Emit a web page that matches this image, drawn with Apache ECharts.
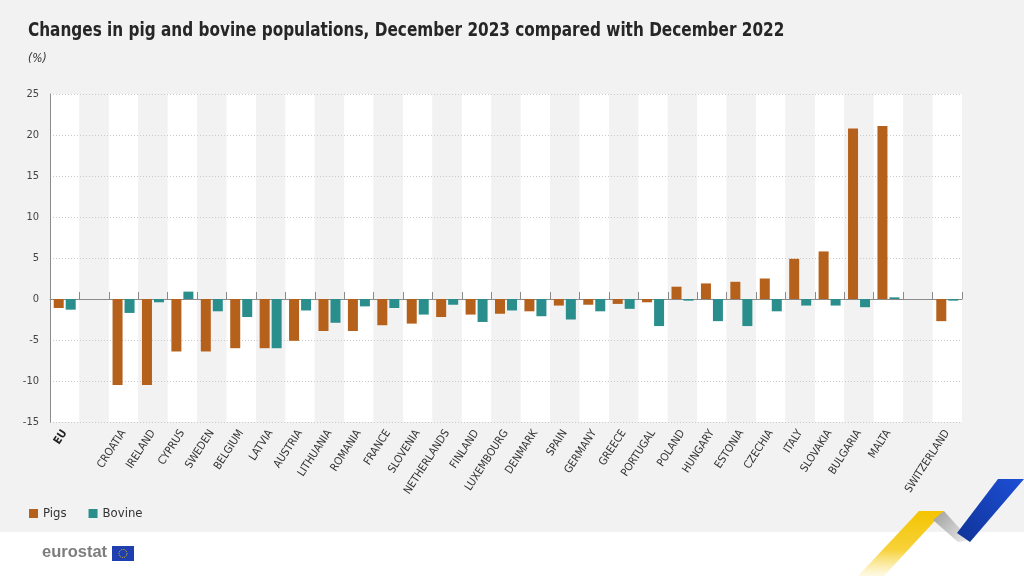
<!DOCTYPE html>
<html>
<head>
<meta charset="utf-8">
<script src="https://cdn.jsdelivr.net/npm/echarts@6/dist/echarts.min.js"></script>
<style>
  html, body { margin: 0; padding: 0; }
  #chart-container {
    width: 1024px; height: 576px;
    background: linear-gradient(to bottom, #f2f2f2 0, #f2f2f2 532px, #ffffff 532px);
  }
</style>
</head>
<body>
<div id="chart-container"></div>
<script>
// categories, empty strings are the spacer slots
var countries = ['EU', '', 'CROATIA', 'IRELAND', 'CYPRUS', 'SWEDEN', 'BELGIUM', 'LATVIA', 'AUSTRIA',
    'LITHUANIA', 'ROMANIA', 'FRANCE', 'SLOVENIA', 'NETHERLANDS', 'FINLAND', 'LUXEMBOURG', 'DENMARK',
    'SPAIN', 'GERMANY', 'GREECE', 'PORTUGAL', 'POLAND', 'HUNGARY', 'ESTONIA', 'CZECHIA', 'ITALY',
    'SLOVAKIA', 'BULGARIA', 'MALTA', '', 'SWITZERLAND'];
var pigs = [-1.1, null, -10.5, -10.5, -6.4, -6.4, -6.0, -6.0, -5.1,
    -3.9, -3.9, -3.2, -3.0, -2.2, -1.9, -1.8, -1.5,
    -0.8, -0.7, -0.6, -0.4, 1.5, 1.9, 2.1, 2.5, 4.9,
    5.8, 20.8, 21.1, null, -2.7];
var bovine = [-1.3, null, -1.7, -0.4, 0.9, -1.5, -2.2, -6.0, -1.4,
    -2.9, -0.9, -1.1, -1.9, -0.7, -2.8, -1.4, -2.1,
    -2.5, -1.5, -1.2, -3.3, -0.2, -2.7, -3.3, -1.5, -0.8,
    -0.8, -1.0, 0.2, null, -0.2];
var seriesNames = ['Pigs', 'Bovine'];

var condensed = "'DejaVu Sans Condensed', 'Liberation Sans Narrow', sans-serif";

var domChart = document.getElementById('chart-container');
var ioChart = echarts.init(domChart, null, { renderer: 'canvas' });

var chartOption = {
    backgroundColor: 'rgba(0,0,0,0)',
    animation: false,
    legend: {
        left: 24,
        top: 502,
        icon: 'rect',
        itemWidth: 9,
        itemHeight: 9,
        itemGap: 22,
        textStyle: { fontFamily: condensed, fontSize: 13, color: '#333' },
        data: seriesNames
    },
    grid: {
        left: 50,
        right: 62,
        top: 94,
        bottom: 154
    },
    xAxis: [
        {
            // zero line with the small upward ticks
            type: 'category',
            data: countries,
            position: 'bottom',
            z: 2,
            axisLine: { onZero: true, lineStyle: { color: '#8a8a8a', width: 1 } },
            axisTick: { show: true, inside: true, interval: 0, length: 7, lineStyle: { color: '#8a8a8a' } },
            axisLabel: { show: false, interval: 0 }
        },
        {
            // bottom labels and the column stripes
            type: 'category',
            data: countries,
            position: 'bottom',
            z: 0,
            axisLine: { show: false, onZero: false },
            axisTick: { show: false },
            splitArea: { show: true, interval: 0, areaStyle: { color: ['#ffffff', '#f2f2f2'] } },
            axisLabel: {
                interval: 0,
                rotate: 57,
                margin: 9,
                fontFamily: condensed,
                fontSize: 11,
                color: '#333',
                formatter: function (value) {
                    return value === 'EU' ? '{b|EU}' : value;
                },
                rich: {
                    b: { fontFamily: condensed, fontSize: 11, fontWeight: 'bold', color: '#222' }
                }
            }
        }
    ],
    yAxis: {
        type: 'value',
        min: -15,
        max: 25,
        interval: 5,
        z: 1,
        axisLine: { show: true, lineStyle: { color: '#8a8a8a' } },
        axisTick: { show: false },
        axisLabel: { fontFamily: condensed, fontSize: 11, color: '#444', margin: 11 },
        splitLine: { show: true, lineStyle: { color: '#cacaca', type: [1, 2], width: 1 } }
    },
    series: [
        {
            name: seriesNames[0],
            type: 'bar',
            xAxisIndex: 0,
            z: 3,
            barWidth: 10,
            barGap: '20%',
            itemStyle: { color: '#b5601b' },
            data: pigs
        },
        {
            name: seriesNames[1],
            type: 'bar',
            xAxisIndex: 0,
            z: 3,
            barWidth: 10,
            barGap: '20%',
            itemStyle: { color: '#2a8e8c' },
            data: bovine
        }
    ],
    graphic: [
        // title and unit, squeezed to match the narrow house font
        {
            type: 'text',
            x: 28,
            y: 21,
            scaleX: 0.85,
            style: {
                text: 'Changes in pig and bovine populations, December 2023 compared with December 2022',
                fontFamily: condensed, fontSize: 20, fontWeight: 'bold', fill: '#262626'
            }
        },
        {
            type: 'text',
            x: 28,
            y: 53,
            style: { text: '(%)', fontFamily: condensed, fontSize: 12, fontStyle: 'italic', fill: '#333' }
        },
        // eurostat logo
        {
            type: 'text',
            x: 42,
            y: 544,
            style: { text: 'eurostat', fontFamily: "'Liberation Sans', Arial, sans-serif", fontWeight: 'bold', fontSize: 16.5, fill: '#7d7d7d' }
        },
        {
            type: 'rect',
            shape: { x: 112, y: 546, width: 22, height: 15 },
            style: { fill: '#1f3fb0' }
        },
        {
            type: 'circle',
            shape: { cx: 123, cy: 553.5, r: 4 },
            style: { fill: 'none', stroke: '#e8c400', lineWidth: 1, lineDash: [1, 1] }
        },
        // ribbon decoration
        {
            type: 'polygon',
            shape: { points: [[919, 511], [944, 511], [884, 576], [858, 576]] },
            style: {
                fill: new echarts.graphic.LinearGradient(0, 0, 0, 1, [
                    { offset: 0, color: '#f4c400' },
                    { offset: 0.6, color: '#f7d23a' },
                    { offset: 1, color: 'rgba(250,225,120,0.2)' }
                ])
            }
        },
        {
            type: 'polygon',
            shape: { points: [[933, 520], [944, 511], [970, 540], [958, 542]] },
            style: {
                fill: new echarts.graphic.LinearGradient(0, 0, 1, 1, [
                    { offset: 0, color: '#9d9d9d' },
                    { offset: 1, color: '#ececec' }
                ])
            }
        },
        {
            type: 'polygon',
            shape: { points: [[998, 479], [1024, 479], [970, 542], [957, 533]] },
            style: {
                fill: new echarts.graphic.LinearGradient(1, 0, 0, 1, [
                    { offset: 0, color: '#1d4fd6' },
                    { offset: 1, color: '#0f3397' }
                ])
            }
        }
    ]
};

if (chartOption && typeof chartOption === 'object') {
    ioChart.setOption(chartOption);
}
</script>
</body>
</html>
